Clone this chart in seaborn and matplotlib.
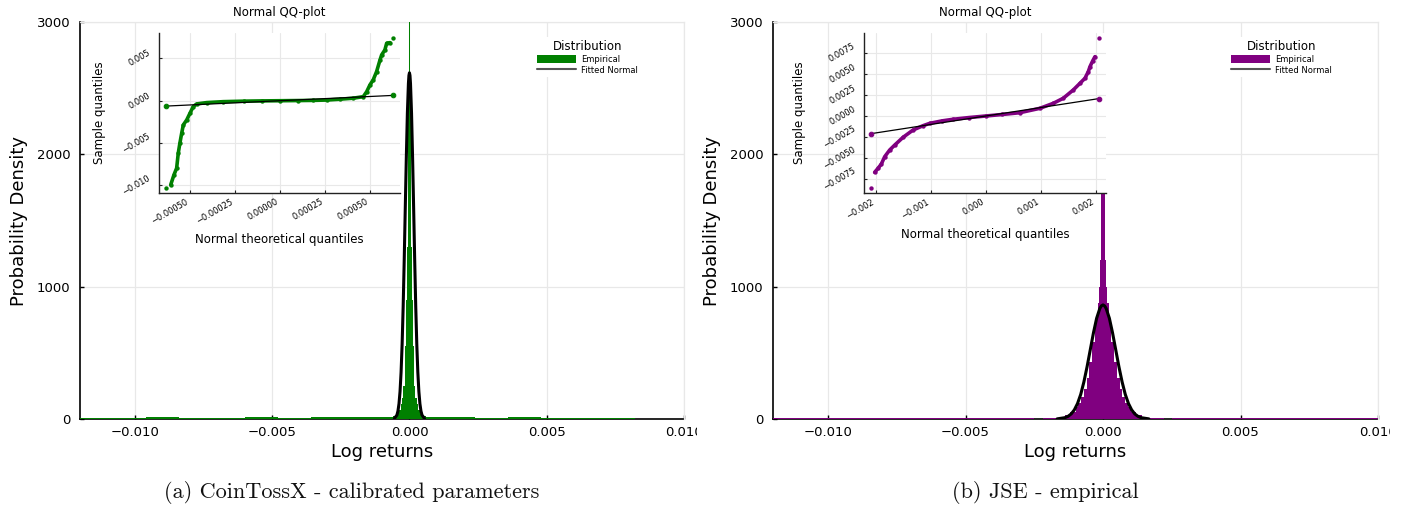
import matplotlib
matplotlib.use("Agg")
import numpy as np
import matplotlib.pyplot as plt
import seaborn as sns
from matplotlib.patches import Patch
from matplotlib.lines import Line2D
from matplotlib.transforms import Bbox, TransformedBbox

# ---------------- data ----------------
GREEN = "#008000"
PURPLE = "#800080"

# Panel (a) CoinTossX: empirical density histogram (bin edges / densities)
left_hist_edges = [-0.0120, -0.0108, -0.0096, -0.0084, -0.0072, -0.0060, -0.0048, -0.0036,
                   -0.0024, -0.0012, -0.0006, -0.0005, -0.0004, -0.00032, -0.00026, -0.00022,
                   -0.00018, -0.00015, -0.00012, -0.00009, -0.00006, -0.00004, -0.00002, 0.0,
                   0.00002, 0.00004, 0.00006, 0.00009, 0.00012, 0.00015, 0.00018, 0.00022,
                   0.00026, 0.00032, 0.0004, 0.0005, 0.0006, 0.0012, 0.0024, 0.0036, 0.0048,
                   0.0060, 0.0072, 0.0082]
left_hist_density = [11, 11, 12, 11, 11, 12, 11, 12, 12, 14,
                     20, 40, 70, 110, 160, 250, 380, 550, 900, 1300, 1800, 2500, 4500,
                     4500, 2500, 1800, 1300, 900, 550, 380, 250, 160, 110, 70, 40, 20,
                     14, 12, 11, 12, 11, 11, 11]

# Panel (a) fitted normal curve
left_fit_x = [-0.000549, -0.000458, -0.000419, -0.000381, -0.000343, -0.000305, -0.000267,
              -0.000229, -0.000191, -0.000153, -0.000114, -0.000076, -0.000038, -0.000019,
              0.0, 0.000019, 0.000038, 0.000076, 0.000114, 0.000153, 0.000191, 0.000229,
              0.000267, 0.000305, 0.000343, 0.000381, 0.000419, 0.000458, 0.000549]
left_fit_y = [4, 29, 60, 115, 208, 354, 566, 849, 1198, 1587, 1975, 2309, 2535, 2596,
              2616, 2596, 2535, 2309, 1975, 1587, 1198, 849, 566, 354, 208, 115, 60, 29, 4]

# Panel (a) QQ plot
left_qq_x = [-0.000633, -0.000607, -0.000589, -0.000574, -0.000565, -0.000556, -0.000546,
             -0.000537, -0.000518, -0.000500, -0.000482, -0.000463, -0.000407, -0.000315,
             -0.000200, -0.000100, 0.0, 0.000100, 0.000185, 0.000260, 0.000333, 0.000407,
             0.000463, 0.000482, 0.000500, 0.000518, 0.000537, 0.000556, 0.000565, 0.000583,
             0.000593, 0.000611, 0.000629]
left_qq_y = [-0.01033, -0.00994, -0.00876, -0.00797, -0.00620, -0.00502, -0.00384,
             -0.00286, -0.00227, -0.00148, -0.00070, -0.00038, -0.00022, -0.00011,
             -0.00005, -0.00002, 0.0, 0.00002, 0.00004, 0.00008, 0.00018, 0.00030,
             0.00048, 0.00107, 0.00187, 0.00246, 0.00344, 0.00482, 0.00541, 0.00600,
             0.00679, 0.00686, 0.00745]
left_qq_line_x = [-0.000633, 0.000629]
left_qq_line_y = [-0.000633, 0.000629]

# Panel (b) JSE: empirical density histogram
right_hist_edges = [-0.012, -0.010, -0.008, -0.006, -0.004,
                    -0.0025, -0.0022, -0.0020, -0.0018, -0.0016, -0.0014, -0.0012, -0.0010,
                    -0.0009, -0.0008, -0.0007, -0.0006, -0.0005, -0.0004, -0.0003, -0.00025,
                    -0.0002, -0.00016, -0.00012, -0.00008, -0.00004, 0.0,
                    0.00004, 0.00008, 0.00012, 0.00016, 0.0002, 0.00025, 0.0003,
                    0.0004, 0.0005, 0.0006, 0.0007, 0.0008, 0.0009, 0.0010, 0.0012,
                    0.0014, 0.0016, 0.0018, 0.0020, 0.0022, 0.0025,
                    0.004, 0.006, 0.008, 0.010]
right_hist_density = [5, 5, 6, 7, 9,
                      3, 4, 6, 10, 16, 30, 56, 90, 122, 168, 229, 313, 428, 585,
                      700, 780, 880, 1000, 1200, 1700, 2600,
                      2600, 1700, 1200, 1000, 880, 780, 700,
                      585, 428, 313, 229, 168, 122, 90, 56,
                      30, 16, 10, 6, 4, 3,
                      9, 7, 6, 5]

# Panel (b) fitted normal curve
right_fit_x = [-0.001667, -0.001389, -0.001273, -0.001158, -0.001042, -0.000926, -0.000810,
               -0.000695, -0.000579, -0.000463, -0.000347, -0.000232, -0.000116, -0.000058,
               0.0, 0.000058, 0.000116, 0.000232, 0.000347, 0.000463, 0.000579, 0.000695,
               0.000810, 0.000926, 0.001042, 0.001158, 0.001273, 0.001389, 0.001667]
right_fit_y = [1, 10, 20, 38, 69, 117, 186, 280, 395, 523, 651, 761, 835, 855,
               862, 855, 835, 761, 651, 523, 395, 280, 186, 117, 69, 38, 20, 10, 1]

# Panel (b) QQ plot
right_qq_x = [-0.002086, -0.002026, -0.001965, -0.001904, -0.001843, -0.001752, -0.001660,
              -0.001509, -0.001326, -0.001144, -0.001022, -0.000800, -0.000597, -0.000300,
              0.0, 0.000300, 0.000620, 0.000985, 0.001229, 0.001411, 0.001593, 0.001715,
              0.001807, 0.001867, 0.001898, 0.001947, 0.001989, 0.002068]
right_qq_y = [-0.00857, -0.00667, -0.00620, -0.00569, -0.00482, -0.00403, -0.00344,
              -0.00253, -0.00166, -0.00115, -0.00087, -0.00058, -0.00039, -0.00018,
              0.0, 0.00018, 0.00039, 0.00091, 0.00150, 0.00210, 0.00308, 0.00387,
              0.00447, 0.00525, 0.00584, 0.00652, 0.00703, 0.00928]
right_qq_line_x = [-0.002086, 0.002068]
right_qq_line_y = [-0.002086, 0.002068]

# ticks / labels
main_xticks = [-0.010, -0.005, 0.0, 0.005, 0.010]
main_xticklabels = ["\u22120.010", "\u22120.005", "0.000", "0.005", "0.010"]
main_yticks = [0, 1000, 2000, 3000]
main_yticklabels = ["0", "1000", "2000", "3000"]

left_qq_xticks = [-0.0005, -0.00025, 0.0, 0.00025, 0.0005]
left_qq_xticklabels = ["\u22120.00050", "\u22120.00025", "0.00000", "0.00025", "0.00050"]
left_qq_yticks = [-0.010, -0.005, 0.0, 0.005]
left_qq_yticklabels = ["\u22120.010", "\u22120.005", "0.000", "0.005"]

right_qq_xticks = [-0.002, -0.001, 0.0, 0.001, 0.002]
right_qq_xticklabels = ["\u22120.002", "\u22120.001", "0.000", "0.001", "0.002"]
right_qq_yticks = [-0.0075, -0.005, -0.0025, 0.0, 0.0025, 0.005, 0.0075]
right_qq_yticklabels = ["\u22120.0075", "\u22120.0050", "\u22120.0025", "0.0000",
                        "0.0025", "0.0050", "0.0075"]

legend_labels = ["Empirical", "Fitted Normal"]
captions = ["(a) CoinTossX - calibrated parameters", "(b) JSE - empirical"]

# ---------------- drawing ----------------
sns.set_theme(style="whitegrid")
plt.rcParams["font.family"] = ["DejaVu Sans"]
plt.rcParams["text.color"] = "black"

W, H = 1422, 508
fig = plt.figure(figsize=(W / 100, H / 100), dpi=100)
GRID = "#e8e8e8"


def px_rect(x0, y0, x1, y1):
    return [x0 / W, (H - y1) / H, (x1 - x0) / W, (y1 - y0) / H]


def draw_panel(main_px, inset_px, color, edges, dens, fx, fy, qx, qy, lx, ly,
               qxlim, qylim, qxt, qxtl, qyt, qytl):
    ax = fig.add_axes(px_rect(*main_px))
    ax.set_facecolor("white")
    centers = [(a + b) / 2 for a, b in zip(edges[:-1], edges[1:])]
    sns.histplot(x=centers, weights=dens, bins=edges, stat="count", element="step",
                 fill=True, color=color, alpha=1.0, linewidth=0, ax=ax)
    for c in ax.collections:
        c.set_zorder(3)
    sns.lineplot(x=fx, y=fy, color="black", linewidth=2.2, ax=ax, zorder=4)
    ax.set_xlim(-0.012, 0.010)
    ax.set_ylim(0, 3000)
    ax.set_xticks(main_xticks)
    ax.set_xticklabels(main_xticklabels)
    ax.set_yticks(main_yticks)
    ax.set_yticklabels(main_yticklabels)
    ax.grid(True, color=GRID, linewidth=0.9)
    for s in ["left", "bottom"]:
        ax.spines[s].set_color("black")
        ax.spines[s].set_linewidth(1.2)
        ax.spines[s].set_zorder(2)
    for s in ["top", "right"]:
        ax.spines[s].set_color(GRID)
        ax.spines[s].set_linewidth(0.9)
    ax.tick_params(axis="both", which="major", direction="in", length=3, width=1,
                   color="black", labelcolor="black", labelsize=9.5,
                   bottom=True, left=True)
    ax.tick_params(axis="x", pad=5)
    ax.tick_params(axis="y", pad=7)
    ax.set_xlabel("Log returns", fontsize=13, color="black", labelpad=3)
    ax.set_ylabel("Probability Density", fontsize=13, color="black", labelpad=6)

    handles = [Patch(facecolor=color, edgecolor="none"),
               Line2D([0], [0], color="#555555", linewidth=1.5)]
    leg = ax.legend(handles, legend_labels, title="Distribution", fontsize=6,
                    title_fontsize=8.5, loc="upper left", bbox_to_anchor=(0.753, 0.962),
                    frameon=True, framealpha=1, facecolor="white", edgecolor="none",
                    handlelength=4.7, handleheight=1.2, handletextpad=0.6,
                    labelspacing=0.25, borderpad=0.3, borderaxespad=0.0)
    leg.get_frame().set_linewidth(0)

    # inset QQ plot
    ai = fig.add_axes(px_rect(*inset_px))
    ai.set_facecolor("white")
    sns.lineplot(x=qx[1:-1], y=qy[1:-1], color=color, linewidth=2.6, ax=ai, zorder=2)
    sns.scatterplot(x=qx, y=qy, color=color, s=10, linewidth=0, ax=ai, zorder=3)
    sns.lineplot(x=lx, y=ly, color="black", linewidth=0.9, marker="o", markersize=3.3,
                 markerfacecolor=color, markeredgecolor=color, ax=ai, zorder=4)
    ai.set_xlim(*qxlim)
    ai.set_ylim(*qylim)
    ai.set_xticks(qxt)
    ai.set_xticklabels(qxtl, rotation=30, ha="right", va="top")
    ai.set_yticks(qyt)
    ai.set_yticklabels(qytl, rotation=30, ha="right", va="center")
    ai.grid(True, color=GRID, linewidth=0.8)
    for s in ["top", "right"]:
        ai.spines[s].set_visible(False)
    for s in ["left", "bottom"]:
        ai.spines[s].set_color("#222222")
        ai.spines[s].set_linewidth(1.0)
    ai.tick_params(axis="both", direction="in", length=2.5, width=0.8, color="#222222",
                   labelcolor="black", labelsize=6, bottom=True, left=True)
    ai.tick_params(axis="x", pad=3)
    ai.tick_params(axis="y", pad=5)
    ai.set_xlabel("Normal theoretical quantiles", fontsize=8.5, color="black", labelpad=5.5)
    ai.set_ylabel("Sample quantiles", fontsize=8.5, color="black", labelpad=11)
    ai.set_title("Normal QQ-plot", fontsize=8.5, color="black", pad=12)
    return ax


ax_l = draw_panel((80, 22, 684, 419), (159, 33, 400, 193), GREEN,
                  left_hist_edges, left_hist_density, left_fit_x, left_fit_y,
                  left_qq_x, left_qq_y, left_qq_line_x, left_qq_line_y,
                  (-0.000672, 0.000667), (-0.0109, 0.0080),
                  left_qq_xticks, left_qq_xticklabels, left_qq_yticks, left_qq_yticklabels)
ax_r = draw_panel((773, 22, 1378, 419), (864, 33, 1106, 193), PURPLE,
                  right_hist_edges, right_hist_density, right_fit_x, right_fit_y,
                  right_qq_x, right_qq_y, right_qq_line_x, right_qq_line_y,
                  (-0.00222, 0.00219), (-0.00912, 0.00983),
                  right_qq_xticks, right_qq_xticklabels, right_qq_yticks, right_qq_yticklabels)

fig.text(352 / W, 1 - 492 / H, captions[0], family="cmr10", fontsize=16,
         ha="center", va="center", color="#111111")
fig.text(1045 / W, 1 - 492 / H, captions[1], family="cmr10", fontsize=16,
         ha="center", va="center", color="#111111")

fig.canvas.draw()
for ax, xr in [(ax_l, 697), (ax_r, 1390)]:
    clip = TransformedBbox(Bbox([[0, 0], [xr / W, 1]]), fig.transFigure)
    for t in ax.get_xticklabels():
        t.set_clip_box(clip)
        t.set_clip_on(True)

fig.savefig("out.png", dpi=100, facecolor="white")
